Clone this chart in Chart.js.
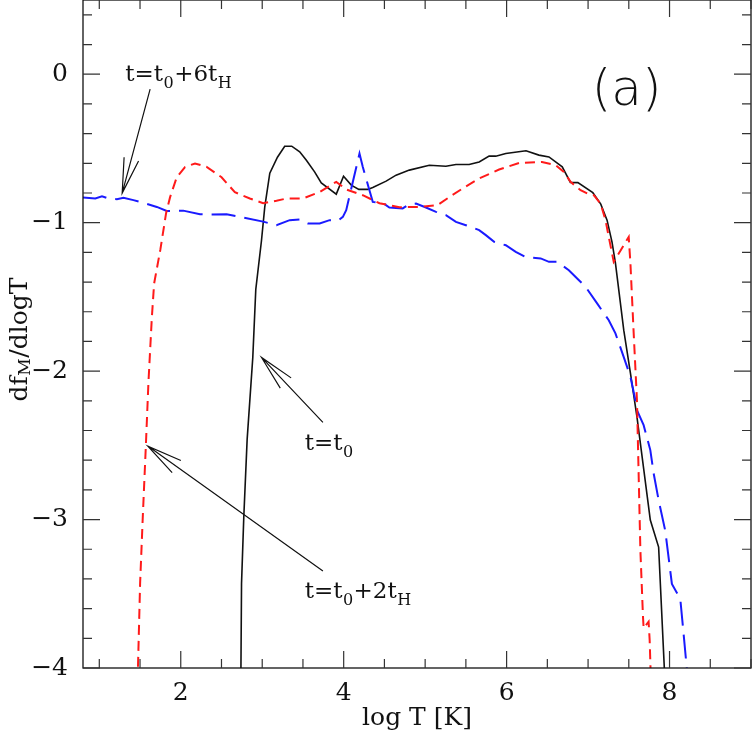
<!DOCTYPE html>
<html>
<head>
<meta charset="utf-8">
<script src="https://cdn.jsdelivr.net/npm/chart.js@4.4.1/dist/chart.umd.min.js"></script>
<style>
  html, body { margin: 0; padding: 0; background: #fff; }
</style>
</head>
<body>
<canvas id="dfmChart"></canvas>
<script>
// t = t0 (solid black)
const blackX = [2.735, 2.746, 2.774, 2.815, 2.884, 2.921, 2.991, 3.031, 3.093, 3.187, 3.276, 3.362, 3.46, 3.542, 3.643, 3.725, 3.909, 3.998, 4.093, 4.186, 4.296, 4.357, 4.521, 4.643, 4.806, 5.051, 5.255, 5.378, 5.54, 5.663, 5.785, 5.867, 5.99, 6.238, 6.397, 6.52, 6.683, 6.783, 6.875, 7.058, 7.156, 7.233, 7.294, 7.336, 7.438, 7.52, 7.6, 7.764, 7.866, 7.936, 7.95];
const blackY = [-4.3, -3.43, -2.98, -2.46, -1.91, -1.45, -1.12, -0.895, -0.667, -0.559, -0.485, -0.485, -0.523, -0.579, -0.658, -0.732, -0.808, -0.687, -0.747, -0.776, -0.776, -0.763, -0.72, -0.68, -0.646, -0.613, -0.62, -0.608, -0.608, -0.591, -0.552, -0.552, -0.534, -0.516, -0.545, -0.557, -0.624, -0.729, -0.73, -0.798, -0.875, -0.983, -1.131, -1.273, -1.724, -2.013, -2.308, -3.003, -3.185, -4.0, -4.3];

// t = t0 + 2tH (short red dashes)
const redX = [1.47, 1.501, 1.534, 1.571, 1.603, 1.645, 1.673, 1.75, 1.82, 1.869, 1.951, 2.052, 2.175, 2.318, 2.501, 2.664, 2.848, 3.011, 3.175, 3.297, 3.5, 3.705, 3.909, 4.031, 4.234, 4.439, 4.684, 4.929, 5.152, 5.296, 5.459, 5.663, 5.908, 6.153, 6.434, 6.602, 6.703, 6.785, 6.908, 6.989, 7.07, 7.153, 7.214, 7.254, 7.315, 7.499, 7.52, 7.56, 7.6, 7.642, 7.674, 7.682, 7.743, 7.756, 7.772];
const redY = [-4.1, -3.43, -2.98, -2.51, -2.08, -1.64, -1.41, -1.18, -0.936, -0.828, -0.694, -0.626, -0.601, -0.624, -0.694, -0.795, -0.837, -0.869, -0.853, -0.837, -0.837, -0.793, -0.725, -0.776, -0.815, -0.869, -0.896, -0.894, -0.882, -0.828, -0.77, -0.702, -0.642, -0.598, -0.591, -0.613, -0.658, -0.725, -0.781, -0.803, -0.815, -0.871, -0.983, -1.096, -1.264, -1.096, -1.275, -1.746, -2.195, -3.205, -3.654, -3.732, -3.688, -3.811, -4.1];

// t = t0 + 6tH (long blue dashes)
const blueX = [0.8, 0.951, 1.033, 1.113, 1.216, 1.297, 1.419, 1.542, 1.706, 1.828, 2.031, 2.236, 2.358, 2.563, 2.766, 3.011, 3.175, 3.337, 3.46, 3.561, 3.705, 3.827, 3.929, 3.99, 4.031, 4.194, 4.234, 4.316, 4.357, 4.479, 4.561, 4.724, 4.806, 4.888, 5.01, 5.133, 5.255, 5.378, 5.5, 5.663, 5.745, 5.847, 5.99, 6.112, 6.235, 6.418, 6.52, 6.621, 6.764, 6.866, 6.969, 7.111, 7.254, 7.336, 7.437, 7.52, 7.581, 7.6, 7.682, 7.764, 7.805, 7.866, 7.948, 8.029, 8.132, 8.172, 8.213, 8.23];
const blueY = [-0.83, -0.837, -0.822, -0.837, -0.842, -0.832, -0.848, -0.867, -0.894, -0.921, -0.919, -0.943, -0.945, -0.943, -0.965, -0.993, -1.017, -0.983, -0.978, -1.005, -1.005, -0.983, -0.988, -0.961, -0.916, -0.534, -0.624, -0.781, -0.86, -0.867, -0.898, -0.904, -0.875, -0.871, -0.898, -0.927, -0.949, -0.995, -1.017, -1.05, -1.084, -1.129, -1.152, -1.197, -1.232, -1.241, -1.264, -1.263, -1.32, -1.376, -1.432, -1.544, -1.657, -1.746, -1.904, -2.038, -2.195, -2.263, -2.364, -2.532, -2.689, -2.869, -3.077, -3.434, -3.535, -3.766, -4.01, -4.2];

// axis ticks
const xTickValues = [2, 4, 6, 8];
const yTickValues = [-4, -3, -2, -1, 0];

// labels with arrows (data coordinates), "_" = subscript
const notes = [
    { text: 't=t_0+6t_H', x: 1.318, y: -0.047, tail: [1.624, -0.101], tip: [1.281, -0.801] },
    { text: 't=t_0', x: 3.521, y: -2.532, tail: [3.745, -2.345], tip: [2.991, -1.908] },
    { text: 't=t_0+2t_H', x: 3.521, y: -3.53, tail: [3.745, -3.347], tip: [1.596, -2.505] }
];

const FONT = '"DejaVu Serif", serif';
const INK = '#111';

function toPoints(xs, ys) {
    return xs.map((x, i) => ({ x: x, y: ys[i] }));
}

// draws text where "_c" puts c as subscript
function drawRich(ctx, str, x, y, size, align, drop) {
    const parts = [];
    for (let i = 0; i < str.length; i++) {
        if (str[i] === '_') { parts.push({ t: str[i + 1], sub: true }); i++; }
        else if (parts.length && !parts[parts.length - 1].sub) parts[parts.length - 1].t += str[i];
        else parts.push({ t: str[i], sub: false });
    }
    const big = size + 'px ' + FONT;
    const small = Math.round(size * 0.68) + 'px ' + FONT;
    let w = 0;
    parts.forEach(p => { ctx.font = p.sub ? small : big; w += ctx.measureText(p.t).width; });
    let cx = align === 'center' ? x - w / 2 : x;
    ctx.textAlign = 'left';
    ctx.textBaseline = 'alphabetic';
    parts.forEach(p => {
        ctx.font = p.sub ? small : big;
        ctx.fillText(p.t, cx, p.sub ? y + drop : y);
        cx += ctx.measureText(p.t).width + 0.5;
    });
}

// frame, inward ticks, y title, arrows and labels
const decor = {
    id: 'decor',
    afterDraw(chart) {
        const ctx = chart.ctx;
        const xs = chart.scales.x, ys = chart.scales.y;
        const a = chart.chartArea;
        ctx.save();
        ctx.strokeStyle = INK;
        ctx.fillStyle = INK;
        ctx.lineWidth = 1.3;
        ctx.strokeRect(a.left, a.top, a.right - a.left, a.bottom - a.top);

        ctx.strokeStyle = '#333';
        ctx.lineWidth = 1.2;
        ctx.beginPath();
        for (let v = 1; v <= 9.001; v += 0.5) {
            const px = xs.getPixelForValue(v);
            const len = Math.abs(v % 2) < 0.01 ? 17 : 9;
            ctx.moveTo(px, a.bottom); ctx.lineTo(px, a.bottom - len);
            ctx.moveTo(px, a.top); ctx.lineTo(px, a.top + len);
        }
        for (let k = -20; k <= 2; k++) {
            const v = k * 0.2;
            const py = ys.getPixelForValue(v);
            const len = k % 5 === 0 ? 17 : 9;
            ctx.moveTo(a.left, py); ctx.lineTo(a.left + len, py);
            ctx.moveTo(a.right, py); ctx.lineTo(a.right - len, py);
        }
        ctx.stroke();
        ctx.strokeStyle = INK;

        // y axis title
        ctx.save();
        ctx.translate(27, 340);
        ctx.rotate(-Math.PI / 2);
        drawRich(ctx, 'df_M/dlogT', 0, 0, 25, 'center', 3);
        ctx.restore();

        // arrows
        ctx.lineWidth = 1.2;
        notes.forEach(n => {
            const tx = xs.getPixelForValue(n.tail[0]), ty = ys.getPixelForValue(n.tail[1]);
            const hx = xs.getPixelForValue(n.tip[0]), hy = ys.getPixelForValue(n.tip[1]);
            const ang = Math.atan2(ty - hy, tx - hx);
            const d = 12 * Math.PI / 180, L = 36;
            ctx.beginPath();
            ctx.moveTo(tx, ty); ctx.lineTo(hx, hy);
            ctx.moveTo(hx + L * Math.cos(ang - d), hy + L * Math.sin(ang - d));
            ctx.lineTo(hx, hy);
            ctx.lineTo(hx + L * Math.cos(ang + d), hy + L * Math.sin(ang + d));
            ctx.stroke();
            drawRich(ctx, n.text, xs.getPixelForValue(n.x), ys.getPixelForValue(n.y), 23, 'left', 7);
        });

        // panel label
        ctx.font = '200 50px "DejaVu Sans", sans-serif';
        ctx.textAlign = 'left';
        ctx.textBaseline = 'alphabetic';
        ctx.fillText('(a)', xs.getPixelForValue(7.045), ys.getPixelForValue(-0.209));
        ctx.restore();
    }
};

const config = {
    type: 'line',
    data: {
        datasets: [
            {
                label: 't=t0+2tH',
                data: toPoints(redX, redY),
                borderColor: '#ff1a1a',
                borderWidth: 2,
                borderDash: [10, 6],
                pointRadius: 0,
                fill: false
            },
            {
                label: 't=t0+6tH',
                data: toPoints(blueX, blueY),
                borderColor: '#1a1aff',
                borderWidth: 2,
                borderDash: [24, 9],
                pointRadius: 0,
                fill: false
            },
            {
                label: 't=t0',
                data: toPoints(blackX, blackY),
                borderColor: '#111',
                borderWidth: 1.6,
                pointRadius: 0,
                fill: false
            }
        ]
    },
    options: {
        responsive: false,
        animation: false,
        devicePixelRatio: 1,
        layout: { padding: { top: 0, right: 1, left: 0, bottom: 0 } },
        plugins: {
            legend: { display: false },
            tooltip: { enabled: false }
        },
        scales: {
            x: {
                type: 'linear',
                min: 0.8,
                max: 9,
                grid: { display: false, drawTicks: false },
                border: { display: false },
                afterBuildTicks: s => { s.ticks = xTickValues.map(v => ({ value: v })); },
                afterFit: s => { s.height = 74; s.paddingLeft = 0; s.paddingRight = 0; },
                ticks: {
                    padding: 10,
                    color: INK,
                    font: { family: FONT, size: 25 },
                    callback: v => String(v)
                },
                title: {
                    display: true,
                    text: 'log T [K]',
                    color: INK,
                    font: { family: FONT, size: 25 },
                    padding: { top: 0, bottom: 9 }
                }
            },
            y: {
                type: 'linear',
                min: -4,
                max: 0.5,
                grid: { display: false, drawTicks: false },
                border: { display: false },
                afterBuildTicks: s => { s.ticks = yTickValues.map(v => ({ value: v })); },
                afterFit: s => { s.width = 83; s.paddingTop = 0; s.paddingBottom = 0; },
                ticks: {
                    padding: 15,
                    color: INK,
                    font: { family: FONT, size: 25 },
                    callback: v => (v < 0 ? '\u2212' + Math.abs(v) : String(v))
                }
            }
        }
    },
    plugins: [decor]
};

// draw the chart
const chartCanvas = document.getElementById('dfmChart');
chartCanvas.width = 752;
chartCanvas.height = 742;
new Chart(chartCanvas.getContext('2d'), config);
</script>
</body>
</html>
